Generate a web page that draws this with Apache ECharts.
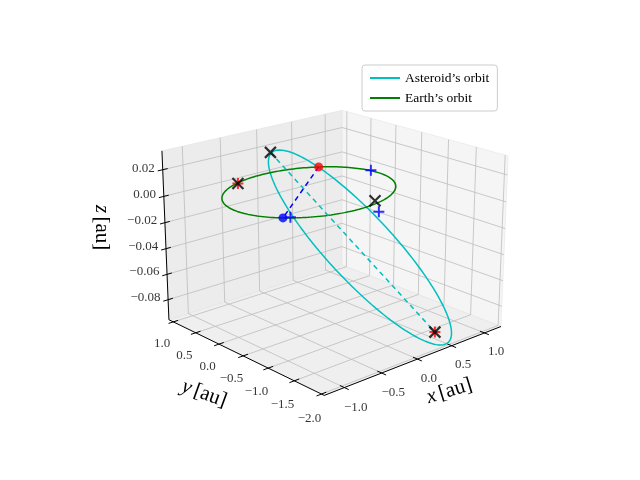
<!DOCTYPE html>
<html>
<head>
<meta charset="utf-8">
<script src="https://cdn.jsdelivr.net/npm/echarts@6/dist/echarts.min.js"></script>
<style>html,body{margin:0;padding:0;background:#fff}#main{width:640px;height:480px}</style>
</head>
<body>
<div id="main"></div>
<script>
// axis limits and ticks
const xLim = [-1.26, 1.26];
const yLim = [-2.05, 1.1];
const zLim = [-0.096, 0.034];
const xTicks = [-1.0, -0.5, 0.0, 0.5, 1.0];
const yTicks = [1.0, 0.5, 0.0, -0.5, -1.0, -1.5, -2.0];
const zTicks = [0.02, 0.0, -0.02, -0.04, -0.06, -0.08];
const xTickLabels = ['\u22121.0', '\u22120.5', '0.0', '0.5', '1.0'];
const yTickLabels = ['1.0', '0.5', '0.0', '\u22120.5', '\u22121.0', '\u22121.5', '\u22122.0'];
const zTickLabels = ['0.02', '0.00', '\u22120.02', '\u22120.04', '\u22120.06', '\u22120.08'];

// orbits: Earth circle, asteroid ellipse (perihelion q, aphelion Q, angles in degrees)
const earthRadius = 1.0;
const asteroidQ = 0.48, asteroidBigQ = 1.84, asteroidWidth = 0.72;
const asteroidNode = 25, asteroidIncl = 3.3;

// marked points [x, y, z]
const redDot = [0.656, 0.755, 0];
const blueDot = [-0.788, -0.616, 0];
const perihelion = [-0.27, 0.40, 0.028];
const aphelion = [0.48, -1.77, -0.09];
const blackX = [perihelion, aphelion, [0.28, -0.88, 0], [-0.40, 0.90, 0]];
const redPlus = [[-0.40, 0.90, 0], aphelion];
const bluePlus = [[1.0, 0.15, 0], [0.06, -1.24, 0], [-0.72, -0.66, 0]];

// view
const AZ = -132 * Math.PI / 180, EL = 19.5 * Math.PI / 180;
const SCALE = 240, CX = 334, CY = 240, DIST = 6;

function proj(p) {
    let n = [
        (p[0] - (xLim[0] + xLim[1]) / 2) / (xLim[1] - xLim[0]),
        (p[1] - (yLim[0] + yLim[1]) / 2) / (yLim[1] - yLim[0]),
        (p[2] - (zLim[0] + zLim[1]) / 2) / (zLim[1] - zLim[0]) * 0.75
    ];
    let sx = -Math.sin(AZ) * n[0] + Math.cos(AZ) * n[1];
    let sy = -Math.sin(EL) * Math.cos(AZ) * n[0] - Math.sin(EL) * Math.sin(AZ) * n[1] + Math.cos(EL) * n[2];
    let depth = Math.cos(EL) * Math.cos(AZ) * n[0] + Math.cos(EL) * Math.sin(AZ) * n[1] + Math.sin(EL) * n[2];
    let f = DIST / (DIST - depth);
    return [CX + SCALE * sx * f, CY - SCALE * sy * f];
}

// segments list -> line data with breaks
function segs(list) {
    let out = [];
    list.forEach(s => { out.push(proj(s[0]), proj(s[1]), '-'); });
    return out;
}

let earthOrbit = [];
for (let i = 0; i <= 200; i++) {
    let t = i / 200 * 2 * Math.PI;
    earthOrbit.push(proj([earthRadius * Math.cos(t), earthRadius * Math.sin(t), 0]));
}

let a = (asteroidQ + asteroidBigQ) / 2, e = (asteroidBigQ - asteroidQ) / (asteroidBigQ + asteroidQ);
let b = a * Math.sqrt(1 - e * e) * asteroidWidth;
let om = asteroidNode * Math.PI / 180, inc = asteroidIncl * Math.PI / 180;
let N = [Math.cos(om), Math.sin(om), 0];
let M = [-Math.sin(om) * Math.cos(inc), Math.cos(om) * Math.cos(inc), Math.sin(inc)];
let asteroidOrbit = [];
for (let i = 0; i <= 300; i++) {
    let E = i / 300 * 2 * Math.PI;
    // perihelion along M, focus at the Sun
    let c = a * (Math.cos(E) - e), s = b * Math.sin(E);
    asteroidOrbit.push(proj([c * M[0] - s * N[0], c * M[1] - s * N[1], c * M[2] - s * N[2]]));
}

// panes
let [x0, x1] = xLim, [y0, y1] = yLim, [z0, z1] = zLim;
let panes = [
    { pts: [[x0, y1, z0], [x1, y1, z0], [x1, y1, z1], [x0, y1, z1]], color: '#ececec' },
    { pts: [[x1, y0, z0], [x1, y1, z0], [x1, y1, z1], [x1, y0, z1]], color: '#f5f5f5' },
    { pts: [[x0, y0, z0], [x1, y0, z0], [x1, y1, z0], [x0, y1, z0]], color: '#efefef' }
];

let gridSegs = [];
xTicks.forEach(x => { gridSegs.push([[x, y1, z0], [x, y1, z1]]); gridSegs.push([[x, y0, z0], [x, y1, z0]]); });
yTicks.forEach(y => { gridSegs.push([[x1, y, z0], [x1, y, z1]]); gridSegs.push([[x0, y, z0], [x1, y, z0]]); });
zTicks.forEach(z => { gridSegs.push([[x0, y1, z], [x1, y1, z]]); gridSegs.push([[x1, y0, z], [x1, y1, z]]); });

let axisSegs = [
    [[x0, y0, z0], [x1, y0, z0]],
    [[x0, y0, z0], [x0, y1, z0]],
    [[x0, y1, z0], [x0, y1, z1]]
];
let dy = 0.025 * (y1 - y0), dx = 0.025 * (x1 - x0);
xTicks.forEach(x => axisSegs.push([[x, y0 - dy, z0], [x, y0 + dy, z0]]));
yTicks.forEach(y => axisSegs.push([[x0 - dx, y, z0], [x0 + dx, y, z0]]));
zTicks.forEach(z => axisSegs.push([[x0 - dx, y1, z], [x0 + dx, y1, z]]));

let labelFont = { fontFamily: 'Liberation Serif', fontSize: 13, color: '#000' };
let xLabelData = xTicks.map((x, i) => ({ value: proj([x, y0 - 0.12 * (y1 - y0), z0]), label: { formatter: xTickLabels[i], offset: [-10, 10] } }));
let yLabelData = yTicks.map((y, i) => ({ value: proj([x0 - 0.13 * (x1 - x0), y, z0]), label: { formatter: yTickLabels[i], offset: [14, 14] } }));
let zLabelData = zTicks.map((z, i) => ({ value: proj([x0, y1 + 0.07 * (y1 - y0), z]), label: { formatter: zTickLabels[i], offset: [2, 2] } }));

function labelSeries(data, align) {
    return {
        type: 'scatter', data: data, symbolSize: 0, silent: true, z: 3,
        label: Object.assign({ show: true, position: 'inside', align: align, verticalAlign: 'middle' }, labelFont)
    };
}

const crossPath = 'path://M0,0L10,10M10,0L0,10';
const plusPath = 'path://M5,0L5,10M0,5L10,5';
function markerSeries(pts, symbol, color, size, width, z) {
    return {
        type: 'scatter', data: pts.map(proj), symbol: symbol, symbolSize: size, z: z, silent: true,
        itemStyle: { color: symbol.startsWith('path') ? 'none' : color, borderColor: color, borderWidth: width }
    };
}

const titleRich = { it: { fontFamily: 'Liberation Serif', fontStyle: 'italic', fontSize: 21 }, n: { fontFamily: 'Liberation Serif', fontSize: 21 } };

let chart = echarts.init(document.getElementById('main'));
let option = {
    backgroundColor: '#fff',
    animation: false,
    grid: { left: 0, right: 0, top: 0, bottom: 0 },
    xAxis: { type: 'value', min: 0, max: 640, show: false },
    yAxis: { type: 'value', min: 0, max: 480, inverse: true, show: false },
    legend: {
        left: 362, top: 65, orient: 'vertical', padding: [6, 8], itemGap: 6,
        borderColor: '#cccccc', borderWidth: 1, borderRadius: 3, backgroundColor: '#fff',
        itemWidth: 30, itemHeight: 2, icon: 'rect',
        textStyle: { fontFamily: 'Liberation Serif', fontSize: 13.5, color: '#000' },
        data: ['Asteroid\u2019s orbit', 'Earth\u2019s orbit']
    },
    series: [
        {
            type: 'custom', silent: true, z: 1, data: panes.map((p, i) => i),
            renderItem: (params, api) => {
                let p = panes[api.value(0)];
                return { type: 'polygon', shape: { points: p.pts.map(q => api.coord(proj(q))) },
                         style: { fill: p.color, stroke: '#e0e0e0', lineWidth: 0.5 } };
            }
        },
        { type: 'line', data: segs(gridSegs), symbol: 'none', silent: true, z: 2, lineStyle: { color: '#bdbdbd', width: 0.8 } },
        { type: 'line', data: segs(axisSegs), symbol: 'none', silent: true, z: 3, lineStyle: { color: '#000', width: 1 } },
        labelSeries(xLabelData, 'center'),
        labelSeries(yLabelData, 'center'),
        labelSeries(zLabelData, 'right'),
        { name: 'Asteroid\u2019s orbit', type: 'line', data: asteroidOrbit, symbol: 'none', z: 4, itemStyle: { color: '#00bfbf' }, lineStyle: { color: '#00bfbf', width: 1.5 } },
        { name: 'Earth\u2019s orbit', type: 'line', data: earthOrbit, symbol: 'none', z: 4, itemStyle: { color: '#008000' }, lineStyle: { color: '#008000', width: 1.5 } },
        { type: 'line', data: [proj(perihelion), proj(aphelion)], symbol: 'none', z: 4, lineStyle: { color: '#00bfbf', width: 1.5, type: [5, 4] } },
        { type: 'line', data: [proj(redDot), proj(blueDot)], symbol: 'none', z: 4, lineStyle: { color: '#0000ff', width: 1.5, type: [5, 4] } },
        markerSeries(redPlus, plusPath, '#ff0000', 11, 2, 6),
        markerSeries(bluePlus, plusPath, '#0000ff', 11, 2, 6),
        markerSeries(blackX, crossPath, '#000000', 11, 2.2, 7),
        markerSeries([redDot], 'circle', '#ff0000', 9, 0, 8),
        markerSeries([blueDot], 'circle', '#0000ff', 9, 0, 5)
    ],
    graphic: [
        { type: 'text', x: 424, y: 388, rotation: 0.3, style: { text: '{it|x} {n|[au]}', rich: titleRich, fill: '#000' } },
        { type: 'text', x: 186, y: 376, rotation: -0.35, style: { text: '{it|y} {n|[au]}', rich: titleRich, fill: '#000' } },
        { type: 'text', x: 112, y: 205, rotation: -Math.PI / 2, style: { text: '{it|z} {n|[au]}', rich: titleRich, fill: '#000' } }
    ]
};
chart.setOption(option);
</script>
</body>
</html>
